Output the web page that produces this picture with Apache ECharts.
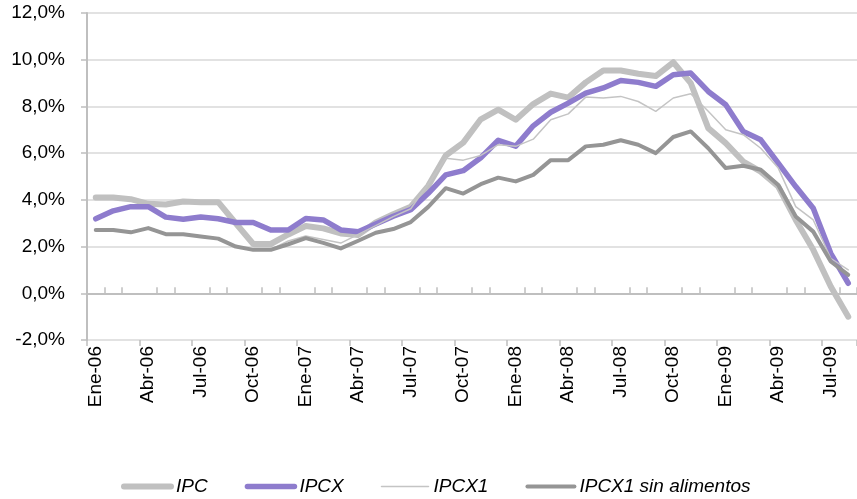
<!DOCTYPE html>
<html><head><meta charset="utf-8">
<script src="https://cdn.jsdelivr.net/npm/echarts@6/dist/echarts.min.js"></script>
<style>html,body{margin:0;padding:0;background:#fff}#c{width:857px;height:499px}</style>
</head><body><div id="c"></div>
<script>
const categories = [
  'Ene-06','Feb-06','Mar-06','Abr-06','May-06','Jun-06','Jul-06','Ago-06','Sep-06','Oct-06','Nov-06','Dic-06',
  'Ene-07','Feb-07','Mar-07','Abr-07','May-07','Jun-07','Jul-07','Ago-07','Sep-07','Oct-07','Nov-07','Dic-07',
  'Ene-08','Feb-08','Mar-08','Abr-08','May-08','Jun-08','Jul-08','Ago-08','Sep-08','Oct-08','Nov-08','Dic-08',
  'Ene-09','Feb-09','Mar-09','Abr-09','May-09','Jun-09','Jul-09','Ago-09'
];
const seriesNames = ['IPC', 'IPCX', 'IPCX1', 'IPCX1 sin alimentos'];
const ipc = [4.10,4.10,4.03,3.83,3.80,3.93,3.90,3.90,3.00,2.11,2.11,2.52,
  2.88,2.78,2.56,2.50,3.03,3.38,3.71,4.60,5.90,6.45,7.45,7.86,
  7.43,8.10,8.55,8.38,9.03,9.54,9.54,9.40,9.30,9.89,9.00,7.07,
  6.43,5.64,5.21,4.57,3.14,1.86,0.29,-1.00];
const ipcx = [3.19,3.53,3.71,3.71,3.26,3.17,3.27,3.19,3.03,3.03,2.71,2.71,
  3.20,3.14,2.71,2.63,2.97,3.30,3.58,4.28,5.07,5.25,5.80,6.55,
  6.30,7.17,7.75,8.14,8.57,8.79,9.11,9.03,8.86,9.36,9.43,8.64,
  8.07,6.93,6.57,5.57,4.57,3.64,1.71,0.43];
const ipcx1 = [2.73,2.73,2.63,2.81,2.55,2.55,2.45,2.36,2.02,1.88,1.88,2.24,
  2.45,2.30,2.15,2.52,2.90,3.28,3.62,4.69,5.78,5.70,5.90,6.36,
  6.29,6.60,7.43,7.68,8.40,8.36,8.43,8.21,7.79,8.36,8.54,7.79,
  7.00,6.79,6.21,5.36,3.71,3.14,1.50,1.00];
const ipcx1SinAlim = [2.71,2.71,2.61,2.79,2.53,2.53,2.43,2.34,2.00,1.86,1.86,2.10,
  2.36,2.16,1.92,2.25,2.59,2.75,3.05,3.70,4.50,4.27,4.67,4.95,
  4.79,5.07,5.70,5.70,6.29,6.36,6.55,6.36,6.00,6.69,6.93,6.21,
  5.36,5.46,5.29,4.64,3.29,2.64,1.36,0.79];
const yMin = -2, yMax = 12, yStep = 2;

const FONT = "'Liberation Sans', Arial, sans-serif";
const axisGray = '#bfbfbf';
const chart = echarts.init(document.getElementById('c'), null, {renderer: 'canvas'});
const mk = (name, data, color, width) => ({
  name, type: 'line', data, xAxisIndex: 0, yAxisIndex: 0,
  symbol: 'none', showSymbol: false, smooth: false,
  lineStyle: {color, width, cap: 'round', join: 'round'},
  itemStyle: {color},
  emphasis: {disabled: true}
});
chart.setOption({
  animation: false,
  grid: {left: 87, top: 13, right: -6, bottom: 159, containLabel: false},
  xAxis: [
    {type: 'category', data: categories, boundaryGap: true, position: 'bottom',
     axisLine: {show: true, onZero: true, lineStyle: {color: axisGray, width: 2}},
     axisTick: {show: true, interval: (i) => i % 3 !== 0, inside: true, length: 6, lineStyle: {color: axisGray, width: 1.5}},
     axisLabel: {show: false}, splitLine: {show: false}},
    {type: 'category', data: categories, boundaryGap: true, position: 'bottom',
     axisLine: {show: false, onZero: true},
     axisTick: {show: true, interval: 2, inside: false, length: 6, lineStyle: {color: axisGray, width: 1.5}},
     axisLabel: {show: false}, splitLine: {show: false}},
    {type: 'category', data: categories, boundaryGap: true, position: 'bottom',
     axisLine: {show: false, onZero: false}, axisTick: {show: false},
     axisLabel: {show: true, interval: 2, rotate: 90, margin: 6, fontFamily: FONT, fontSize: 19, color: '#000'},
     splitLine: {show: false}}
  ],
  yAxis: {type: 'value', min: yMin, max: yMax, interval: yStep,
    axisLine: {show: true, lineStyle: {color: axisGray, width: 2}},
    axisTick: {show: true, length: 6, lineStyle: {color: axisGray, width: 1.5}},
    axisLabel: {margin: 22, fontFamily: FONT, fontSize: 19, color: '#000',
      formatter: v => v.toFixed(1).replace('.', ',') + '%'},
    splitLine: {show: true, lineStyle: {color: '#d9d9d9', width: 1.5}}},
  legend: {
    data: seriesNames, left: 116, top: 472, itemWidth: 47, itemHeight: 14, itemGap: 37,
    itemStyle: {opacity: 0},
    lineStyle: {width: 'inherit', cap: 'round'},
    textStyle: {fontFamily: FONT, fontSize: 19, fontStyle: 'italic', color: '#000'}
  },
  series: [
    mk(seriesNames[0], ipc, '#c0c0c0', 6),
    mk(seriesNames[1], ipcx, '#8e7ccd', 5.5),
    mk(seriesNames[2], ipcx1, '#c4c4c4', 1.5),
    mk(seriesNames[3], ipcx1SinAlim, '#959595', 4)
  ]
});
</script></body></html>
